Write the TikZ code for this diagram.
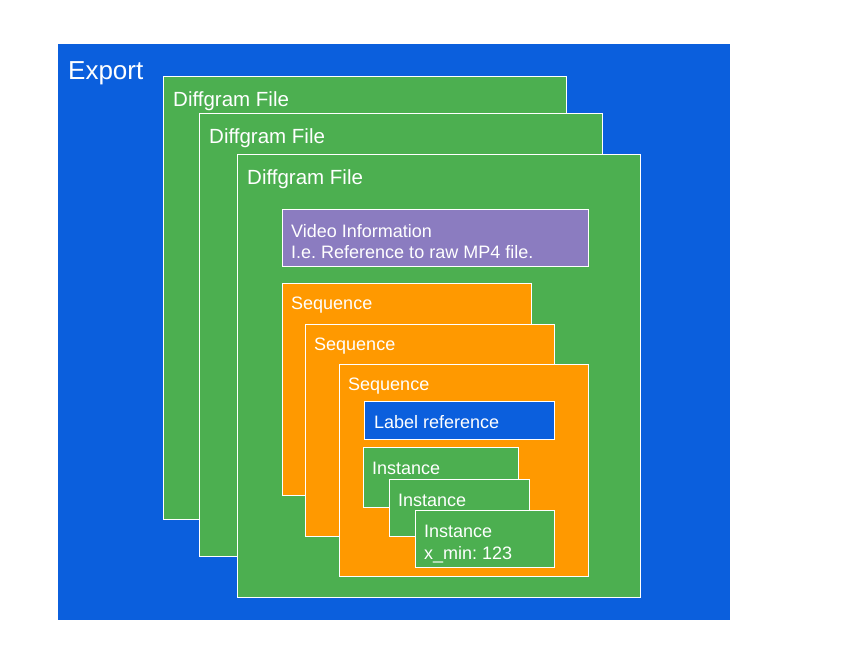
\documentclass[tikz,border=0pt]{standalone}
\usepackage{fontspec}
\setmainfont{Liberation Sans}
\frenchspacing
\definecolor{exportblue}{HTML}{0B5FDD}
\definecolor{filegreen}{HTML}{4CAF50}
\definecolor{seqorange}{HTML}{FF9900}
\definecolor{infopurple}{HTML}{8B7CC0}
\tikzset{
	panel/.style = {draw = white, line width = 0.9pt, anchor = north west, inner sep = 0pt},
	title/.style = {text = white, anchor = base west, inner sep = 0pt, align = left},
}
\begin{document}
\begin{tikzpicture}[x = 1pt, y = -1pt]
\useasboundingbox[fill = white] (0,0) rectangle (859,654);
% export
\node[panel, draw = none, fill = exportblue, minimum width = 672pt, minimum height = 576pt] (export) at (58,44) {};
\node[title, font = \fontsize{26}{30}\selectfont, xshift = 10pt, yshift = -35pt] (exporttitle) at (export.north west) {Export};
% diffgram files
\foreach \i/\x/\y in {1/163/76, 2/199/113, 3/237/154}
{
	\node[panel, fill = filegreen, minimum width = 403pt, minimum height = 443pt] (file\i) at (\x,\y) {};
	\node[title, font = \fontsize{20.5}{24}\selectfont, xshift = 10pt, yshift = -30pt] (filetitle\i) at (file\i.north west) {Diffgram File};
}
\node[panel, fill = infopurple, minimum width = 306pt, minimum height = 57pt] (video) at (282,209) {};
\node[title, font = \fontsize{18}{21}\selectfont, xshift = 9pt, yshift = -49pt] (videotitle) at (video.north west) {Video Information\\I.e. Reference to raw MP4 file.};
% sequences
\foreach \i/\x/\y in {1/282/283, 2/305/324, 3/339/364}
{
	\node[panel, fill = seqorange, minimum width = 249pt, minimum height = 212pt] (seq\i) at (\x,\y) {};
	\node[title, font = \fontsize{18}{21}\selectfont, xshift = 9pt, yshift = -26pt] (seqtitle\i) at (seq\i.north west) {Sequence};
}
\node[panel, fill = exportblue, minimum width = 190pt, minimum height = 38pt] (labelref) at (364,401) {};
\node[title, font = \fontsize{18}{21}\selectfont, xshift = 10pt, yshift = -27pt] (labelreftitle) at (labelref.north west) {Label reference};
% instances
\node[panel, fill = filegreen, minimum width = 155pt, minimum height = 60pt] (inst1) at (363,447) {};
\node[panel, fill = filegreen, minimum width = 140pt, minimum height = 57pt] (inst2) at (389,479) {};
\node[panel, fill = filegreen, minimum width = 139pt, minimum height = 57pt] (inst3) at (415,510) {};
\foreach \i in {1,2}
{
	\node[title, font = \fontsize{18}{21}\selectfont, xshift = 9pt, yshift = -27pt] (insttitle\i) at (inst\i.north west) {Instance};
}
\node[title, font = \fontsize{18}{22}\selectfont, xshift = 9pt, yshift = -49pt] (insttitle3) at (inst3.north west) {Instance\\x\_min: 123};
\end{tikzpicture}
\end{document}
